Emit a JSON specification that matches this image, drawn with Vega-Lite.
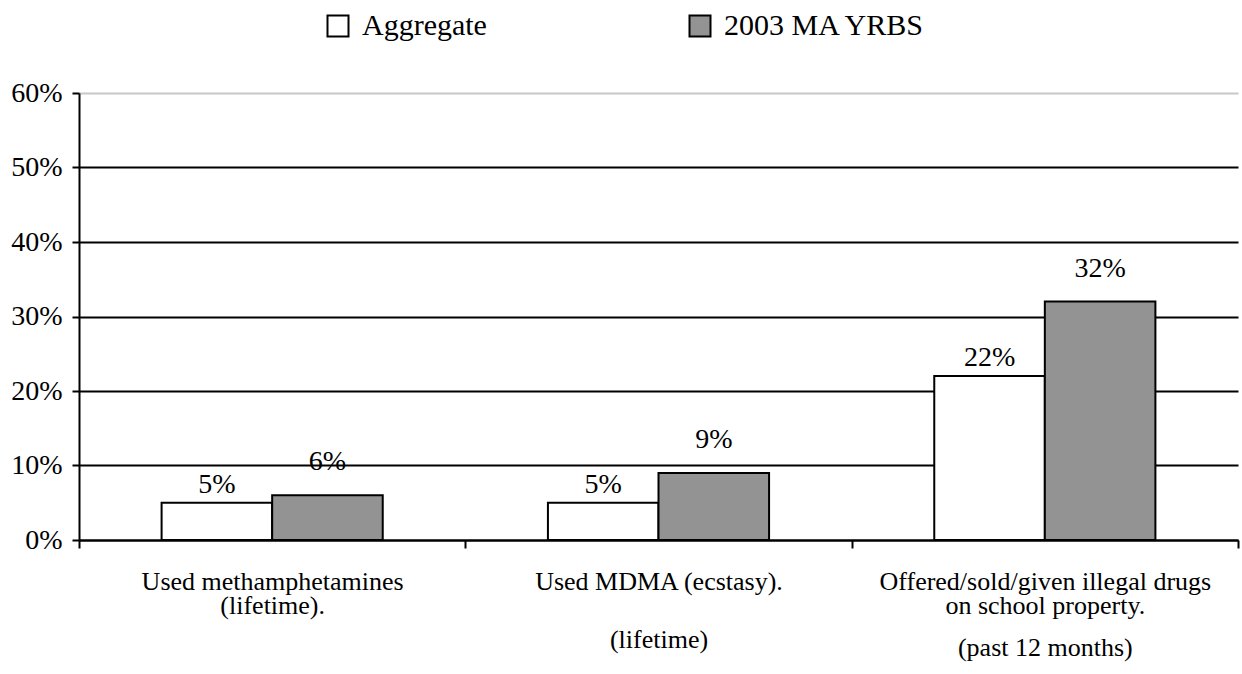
{
  "$schema": "https://vega.github.io/schema/vega-lite/v6.json",
  "width": 1159,
  "height": 447,
  "autosize": {"type": "none"},
  "padding": {"left": 79, "top": 93, "right": 4, "bottom": 134},
  "background": "white",
  "config": {"font": "Liberation Serif", "view": {"stroke": null}},
  "data": {
    "values": [
      {"cat": "Used methamphetamines|\u200b|\u200b|(lifetime).", "series": "Aggregate", "value": 0.05},
      {"cat": "Used methamphetamines|\u200b|\u200b|(lifetime).", "series": "2003 MA YRBS", "value": 0.06},
      {"cat": "Used MDMA (ecstasy).|\u200b|\u200b|\u200b|\u200b|\u200b|\u200b|(lifetime)", "series": "Aggregate", "value": 0.05},
      {"cat": "Used MDMA (ecstasy).|\u200b|\u200b|\u200b|\u200b|\u200b|\u200b|(lifetime)", "series": "2003 MA YRBS", "value": 0.09},
      {"cat": "Offered/sold/given illegal drugs|\u200b|\u200b|on school property.|\u200b|\u200b|\u200b|\u200b|(past 12 months)", "series": "Aggregate", "value": 0.22},
      {"cat": "Offered/sold/given illegal drugs|\u200b|\u200b|on school property.|\u200b|\u200b|\u200b|\u200b|(past 12 months)", "series": "2003 MA YRBS", "value": 0.32}
    ]
  },
  "encoding": {
    "x": {
      "field": "cat", "type": "nominal", "sort": null,
      "scale": {"paddingInner": 0, "paddingOuter": 0},
      "axis": {
        "title": null, "labelAngle": 0, "labelFontSize": 26, "labelColor": "black",
        "labelLineHeight": 8.33, "labelExpr": "split(datum.label, '|')", "labelLimit": 0,
        "domainColor": "black", "domainWidth": 2, "tickColor": "black", "tickWidth": 2,
        "tickSize": 8, "tickBand": "extent", "labelPadding": 20
      }
    },
    "xOffset": {
      "field": "series", "type": "nominal", "sort": ["Aggregate", "2003 MA YRBS"],
      "scale": {"paddingInner": 0, "paddingOuter": 0.747}
    },
    "y": {
      "field": "value", "type": "quantitative",
      "scale": {"domain": [0, 0.6], "nice": false},
      "axis": {
        "title": null, "format": ".0%", "values": [0, 0.1, 0.2, 0.3, 0.4, 0.5, 0.6],
        "labelFontSize": 28, "labelColor": "black", "labelPadding": 10,
        "domainColor": "black", "domainWidth": 2, "tickColor": "black", "tickWidth": 2, "tickSize": 7,
        "grid": true, "gridWidth": 2,
        "gridColor": {"condition": {"test": "datum.value > 0.55", "value": "#c8c8c8"}, "value": "black"}
      }
    }
  },
  "layer": [
    {
      "mark": {"type": "bar", "stroke": "black", "strokeWidth": 2},
      "encoding": {
        "fill": {
          "field": "series", "type": "nominal", "sort": ["Aggregate", "2003 MA YRBS"],
          "scale": {"range": ["white", "#939393"]},
          "legend": {
            "title": null, "orient": "none", "direction": "horizontal",
            "legendX": 244, "legendY": -82, "symbolType": "square", "symbolSize": 441,
            "symbolStrokeColor": "black", "symbolStrokeWidth": 2, "labelFontSize": 30,
            "labelColor": "black", "columnPadding": 198, "labelOffset": 9, "labelLimit": 400
          }
        }
      }
    },
    {
      "transform": [{"filter": "datum.series == 'Aggregate'"}],
      "mark": {"type": "text", "baseline": "alphabetic", "dy": -10, "fontSize": 28, "color": "black"},
      "encoding": {"text": {"field": "value", "type": "quantitative", "format": ".0%"}}
    },
    {
      "transform": [{"filter": "datum.series == '2003 MA YRBS'"}],
      "mark": {"type": "text", "baseline": "alphabetic", "dy": -25, "fontSize": 28, "color": "black"},
      "encoding": {"text": {"field": "value", "type": "quantitative", "format": ".0%"}}
    }
  ]
}
